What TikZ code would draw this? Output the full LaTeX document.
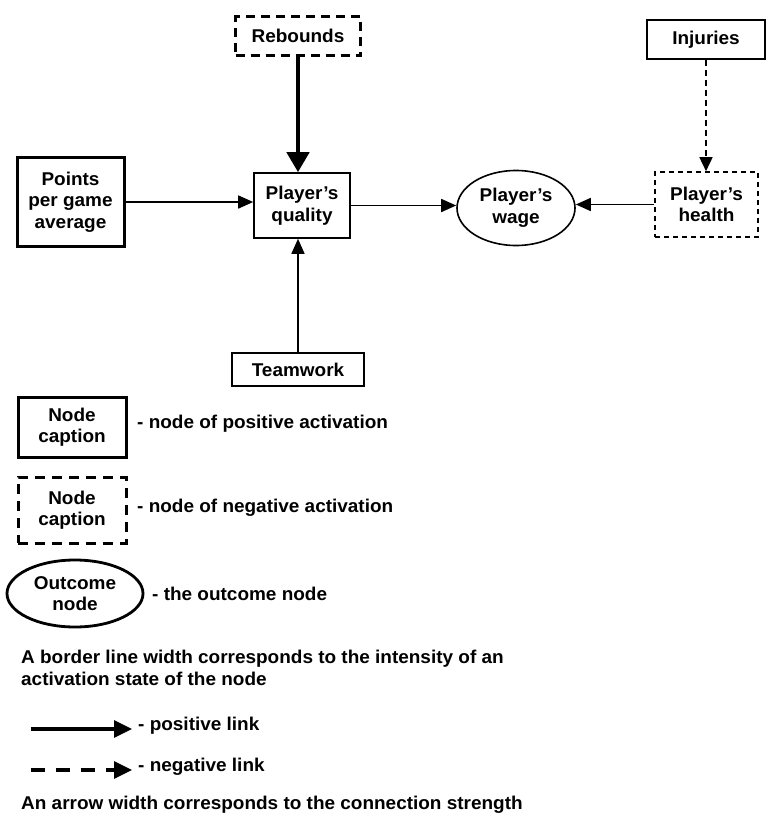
\documentclass[tikz,border=0pt]{standalone}
\usepackage{fontspec}
\setmainfont{Liberation Sans}[FakeStretch=1.025]
\usetikzlibrary{arrows.meta,shapes.geometric}
\begin{document}
\begin{tikzpicture}[x=1pt,y=-1pt,
  every node/.style={font=\fontsize{18.5}{21.5}\selectfont\bfseries, align=center, inner sep=0pt},
  thinbox/.style={draw, line width=1.6pt, rectangle},
  thickbox/.style={draw, line width=3pt, rectangle},
  negthick/.style={draw, line width=3.5pt, rectangle, dash pattern=on 9pt off 6pt},
  negthin/.style={draw, line width=1.6pt, rectangle, dash pattern=on 5pt off 4pt},
  outcome/.style={draw, ellipse, line width=1.6pt, inner sep=0pt},
  poslink/.style={line width=1.6pt, -{Triangle[length=15pt,width=13pt]}},
  strong/.style={line width=4.5pt, -{Triangle[length=20pt,width=22pt]}},
  neglink/.style={line width=1.6pt, dash pattern=on 6pt off 4pt, -{Triangle[length=14pt,width=13pt]}},
  lbl/.style={anchor=west, align=left},
  legarrow/.style={line width=3.3pt, -{Triangle[length=18pt,width=17pt]}}
]
\useasboundingbox (0,0) rectangle (766,819);
% main nodes
\node[negthick, minimum width=125pt, minimum height=39pt] (reb) at (298,36) {Rebounds};
\node[thickbox, minimum width=107pt, minimum height=89pt] (pts) at (70.5,202) {Points\\per game\\average};
\node[thinbox, minimum width=96pt, minimum height=65pt] (qual) at (302,205.5) {Player's\\quality};
\node[outcome, minimum width=118pt, minimum height=75pt] (wage) at (516,208) {Player's\\wage};
\node[negthin, minimum width=103pt, minimum height=65pt] (health) at (706.5,204.5) {Player's\\health};
\node[thinbox, minimum width=118pt, minimum height=39pt] (inj) at (706,39.5) {Injuries};
\node[thinbox, minimum width=132pt, minimum height=33pt] (team) at (298,369.5) {Teamwork};
% connectors
\draw[strong] (reb.south) -- (reb.south |- qual.north);
\draw[poslink] (pts.east) -- (pts.east -| qual.west);
\draw[poslink] (qual.east) -- (qual.east -| wage.west);
\draw[poslink] (health.west) -- (health.west -| wage.east);
\draw[neglink] (inj.south) -- (inj.south |- health.north);
\draw[poslink] (team.north) -- (team.north |- qual.south);
% legend
\node[thickbox, minimum width=108pt, minimum height=60pt] (lpos) at (72,427) {Node\\caption};
\node[lbl] (lposl) at (137,424) {- node of positive activation};
\node[negthick, line width=3pt, dash pattern=on 10pt off 7pt, minimum width=108pt, minimum height=66pt] (lneg) at (72,510) {Node\\caption};
\node[lbl] (lnegl) at (137,508) {- node of negative activation};
\node[outcome, line width=2.8pt, minimum width=136pt, minimum height=67pt] (lout) at (75,593.5) {Outcome\\node};
\node[lbl] (loutl) at (152,594) {- the outcome node};
\node[anchor=north west, align=left, font=\fontsize{18.5}{22}\selectfont\bfseries] (border) at (21,650) {A border line width corresponds to the intensity of an\\activation state of the node};
\coordinate (pa) at (30.7,729);
\coordinate (pb) at (132,729);
\draw[legarrow] (pa) -- (pb);
\node[lbl] (posl) at (138,726) {- positive link};
\coordinate (na) at (30.7,770);
\coordinate (nb) at (132,770);
\draw[legarrow, dash pattern=on 14.5pt off 10.5pt] (na) -- (nb);
\node[lbl] (negl) at (138,767) {- negative link};
\node[lbl] (strength) at (21,805) {An arrow width corresponds to the connection strength};
\end{tikzpicture}
\end{document}
